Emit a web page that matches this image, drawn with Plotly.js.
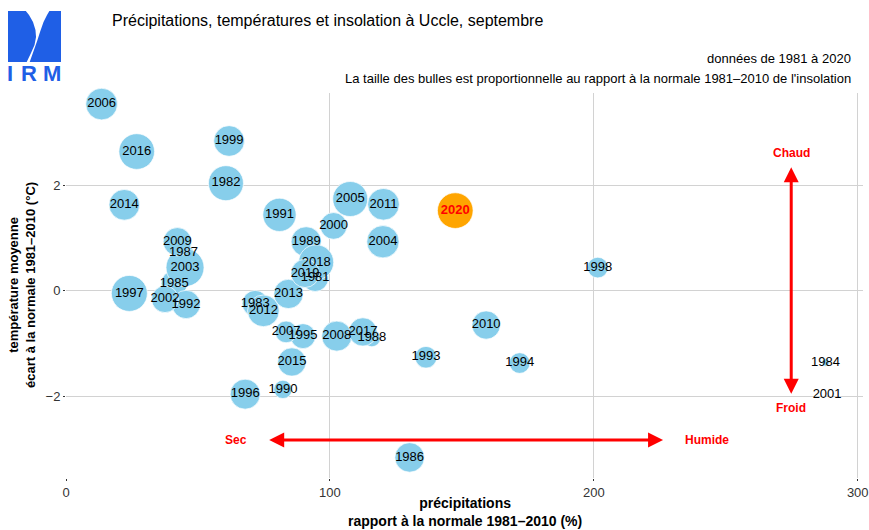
<!DOCTYPE html>
<html>
<head>
<meta charset="utf-8">
<script src="https://cdn.plot.ly/plotly-3.0.1.min.js"></script>
<style>
  body { margin: 0; background: #fff; }
  #chart { width: 869px; height: 530px; }
</style>
</head>
<body>
<div id="chart"></div>
<script>
// Uccle, septembre 1981-2020
const years = [1981, 1982, 1983, 1984, 1985, 1986, 1987, 1988, 1989, 1990,
               1991, 1992, 1993, 1994, 1995, 1996, 1997, 1998, 1999, 2000,
               2001, 2002, 2003, 2004, 2005, 2006, 2007, 2008, 2009, 2010,
               2011, 2012, 2013, 2014, 2015, 2016, 2017, 2018, 2019, 2020];

// précipitations, rapport à la normale 1981-2010 (%)
const precip = [94.4, 60.6, 71.7, 287.8, 41.0, 130.2, 44.5, 115.9, 91.0, 82.2,
                80.9, 45.5, 136.4, 171.9, 89.8, 67.9, 24.0, 201.5, 61.8, 101.4,
                288.4, 37.5, 45.1, 120.1, 107.7, 13.5, 83.4, 102.6, 42.2, 159.2,
                120.3, 74.8, 84.3, 22.1, 85.6, 26.8, 112.5, 94.8, 90.6, 147.5];

// température moyenne, écart à la normale 1981-2010 (°C)
const tempAnom = [0.24, 2.04, -0.24, -1.36, 0.14, -3.16, 0.72, -0.90, 0.93, -1.87,
                  1.44, -0.26, -1.26, -1.37, -0.86, -1.96, -0.05, 0.44, 2.84, 1.23,
                  -1.98, -0.16, 0.44, 0.93, 1.74, 3.54, -0.78, -0.86, 0.93, -0.65,
                  1.64, -0.38, -0.06, 1.63, -1.35, 2.64, -0.78, 0.54, 0.33, 1.52];

// insolation, rapport à la normale 1981-2010 (%)
const insol = [99.5, 127.9, 97.5, 63.0, 97.5, 108.2, 82.2, 76.0, 109.9, 78.6,
               121.4, 104.4, 86.1, 83.7, 94.6, 109.9, 131.8, 83.7, 112.2, 99.5,
               60.0, 99.5, 140.0, 117.8, 127.9, 115.7, 86.1, 109.9, 104.4, 104.4,
               115.7, 115.7, 107.5, 112.2, 104.4, 130.6, 104.4, 127.9, 104.4, 130.6];

const xTicks = [0, 100, 200, 300];
const yTicks = [-2, 0, 2];

const FONT = 'Liberation Sans, Arial, sans-serif';
const BLUE = '#1f5fe6';

// surface du point proportionnelle à l'insolation (entre min et max)
const insMin = Math.min(...insol), insMax = Math.max(...insol);
function bubbleSize(v) {
    return 38 * Math.sqrt((v - insMin) / (insMax - insMin));
}

const last = years.length - 1;
const past = years.slice(0, last).map((y, i) => i);

const traces = [
    {
        x: past.map(i => precip[i]),
        y: past.map(i => tempAnom[i]),
        text: past.map(i => String(years[i])),
        type: 'scatter', mode: 'markers+text',
        marker: { size: past.map(i => bubbleSize(insol[i])), color: '#87CEEB',
                  line: { color: '#ffffff', width: 0.7 }, opacity: 1 },
        textfont: { family: FONT, size: 13, color: '#000' },
        textposition: 'middle center',
        hoverinfo: 'text', cliponaxis: false
    },
    {
        x: [precip[last]], y: [tempAnom[last]], text: [String(years[last])],
        type: 'scatter', mode: 'markers+text',
        marker: { size: [bubbleSize(insol[last])], color: '#FFA500', opacity: 1,
                  line: { color: '#ffffff', width: 0.7 } },
        textfont: { family: FONT, size: 13, color: '#ff0000', weight: 'bold' },
        textposition: 'middle center', cliponaxis: false
    }
];

// pixel -> paper (plot area 66..863 x 93..478)
const px = p => (p - 66) / 797;
const py = p => (478 - p) / 385;

function pathOf(pts) {
    return pts.map((p, i) => (i ? 'L' : 'M') + px(p[0]).toFixed(4) + ',' + py(p[1]).toFixed(4)).join(' ') + ' Z';
}

const logoCut = [[25, 10], [29, 15], [33, 22], [35.5, 30], [36, 37], [34.5, 45], [31, 53], [26.5, 62.5],
                 [29.5, 62.5], [32.5, 54], [35, 47], [37.5, 40], [40, 32], [43.5, 22], [47, 15], [50, 10]];

const shapes = [
    { type: 'rect', xref: 'paper', yref: 'paper', x0: px(8), x1: px(61), y0: py(62), y1: py(11),
      fillcolor: BLUE, line: { width: 0 } },
    { type: 'path', xref: 'paper', yref: 'paper', path: pathOf(logoCut),
      fillcolor: '#ffffff', line: { width: 0 } }
];

const red = { family: FONT, size: 12, color: '#ff0000', weight: 'bold' };
const logoFont = { family: FONT, size: 22, color: BLUE, weight: 'bold' };
const annotations = [
    { xref: 'paper', yref: 'paper', x: px(110), y: py(20), xanchor: 'left', yanchor: 'middle',
      text: 'Précipitations, températures et insolation à Uccle, septembre', showarrow: false,
      font: { family: FONT, size: 16, color: '#000' } },
    { xref: 'paper', yref: 'paper', x: px(853), y: py(59), xanchor: 'right', yanchor: 'middle',
      text: 'données de 1981 à 2020', showarrow: false,
      font: { family: FONT, size: 13, color: '#000' } },
    { xref: 'paper', yref: 'paper', x: px(853), y: py(78), xanchor: 'right', yanchor: 'middle',
      text: "La taille des bulles est proportionnelle au rapport à la normale 1981–2010 de l'insolation",
      showarrow: false, font: { family: FONT, size: 13, color: '#000' } },
    { xref: 'paper', yref: 'paper', x: 0.5, y: py(512), xanchor: 'center', yanchor: 'middle',
      text: 'précipitations<br>rapport à la normale 1981–2010 (%)', showarrow: false,
      font: { family: FONT, size: 14, color: '#000', weight: 'bold' } },
    { xref: 'paper', yref: 'paper', x: px(22), y: py(285), xanchor: 'center', yanchor: 'middle',
      textangle: -90, text: 'température moyenne<br>écart à la normale 1981–2010 (°C)', showarrow: false,
      font: { family: FONT, size: 13, color: '#000', weight: 'bold' } },
    // logo letters
    { xref: 'paper', yref: 'paper', x: px(10.5), y: py(73), xanchor: 'center', yanchor: 'middle',
      text: 'I', showarrow: false, font: logoFont },
    { xref: 'paper', yref: 'paper', x: px(28.7), y: py(73), xanchor: 'center', yanchor: 'middle',
      text: 'R', showarrow: false, font: logoFont },
    { xref: 'paper', yref: 'paper', x: px(51.8), y: py(73), xanchor: 'center', yanchor: 'middle',
      text: 'M', showarrow: false, font: logoFont },
    // flèches sec / humide, chaud / froid
    { x: 77, y: -2.83, ax: 226.8, ay: -2.83, axref: 'x', ayref: 'y', showarrow: true,
      arrowside: 'end+start', arrowhead: 2, arrowsize: 1, arrowwidth: 3, arrowcolor: '#ff0000', text: '' },
    { x: 274.8, y: 2.34, ax: 274.8, ay: -1.98, axref: 'x', ayref: 'y', showarrow: true,
      arrowside: 'end+start', arrowhead: 2, arrowsize: 1, arrowwidth: 3, arrowcolor: '#ff0000', text: '' },
    { x: 64.5, y: -2.83, text: 'Sec', showarrow: false, font: red },
    { x: 243, y: -2.83, text: 'Humide', showarrow: false, font: red },
    { x: 274.8, y: 2.62, text: 'Chaud', showarrow: false, font: red },
    { x: 274.8, y: -2.23, text: 'Froid', showarrow: false, font: red }
];

const axisCommon = {
    showgrid: true, gridcolor: '#d2d2d2', gridwidth: 1, zeroline: false, showline: false,
    ticks: 'outside', ticklen: 2, tickcolor: '#333', tickwidth: 1,
    tickfont: { family: FONT, size: 13, color: '#333' }, tickmode: 'array'
};

const layout = {
    width: 869, height: 530, autosize: false,
    margin: { l: 66, r: 6, t: 93, b: 52, pad: 0 },
    paper_bgcolor: '#fff', plot_bgcolor: '#fff',
    showlegend: false,
    xaxis: Object.assign({}, axisCommon, { range: [0, 302], tickvals: xTicks, ticktext: xTicks.map(String) }),
    yaxis: Object.assign({}, axisCommon, { range: [-3.55, 3.75], tickvals: yTicks,
                                          ticktext: yTicks.map(v => v < 0 ? '−' + Math.abs(v) : String(v)) }),
    shapes: shapes,
    annotations: annotations
};

Plotly.newPlot('chart', traces, layout, { displayModeBar: false, staticPlot: true });
</script>
</body>
</html>
